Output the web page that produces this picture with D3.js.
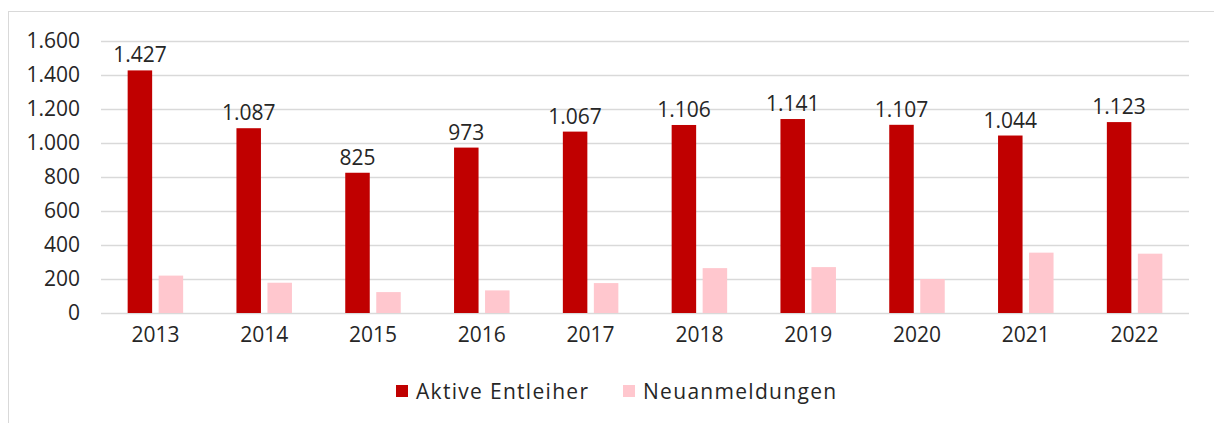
<!DOCTYPE html>
<html>
<head>
<meta charset="utf-8">
<script src="https://cdn.jsdelivr.net/npm/d3@7"></script>
<style>
  body { margin: 0; background: #fff; }
  svg { display: block; font-family: "Open Sans", "Noto Sans", sans-serif; }
</style>
</head>
<body>
<svg id="chart" width="1214" height="423"></svg>
<script>
const years = ['2013', '2014', '2015', '2016', '2017', '2018', '2019', '2020', '2021', '2022']
const aktive = [1427, 1087, 825, 973, 1067, 1106, 1141, 1107, 1044, 1123]
const neu = [220, 178, 123, 133, 176, 264, 270, 200, 355, 349]
const yTicks = [0, 200, 400, 600, 800, 1000, 1200, 1400, 1600]
const seriesNames = ['Aktive Entleiher', 'Neuanmeldungen']
const colors = ['#c00000', '#ffc7ce']

const font = '"Open Sans", "Noto Sans", sans-serif'
const fontSize = 21
const textColor = '#262626'
const svg = d3.select('#chart')

// outer frame
svg.append('rect')
    .attr('x', 8.5).attr('y', 11.5)
    .attr('width', 1214).attr('height', 430)
    .attr('fill', 'none').attr('stroke', '#d9d9d9')

const margin = { top: 41, left: 101, right: 1189, bottom: 313 }

const x = d3.scaleBand()
    .domain(years)
    .range([margin.left, margin.right])

const y = d3.scaleLinear()
    .domain([0, 1600])
    .range([margin.bottom, margin.top])

const fmt = d3.formatLocale({ decimal: ',', thousands: '.', grouping: [3], currency: ['', '€'] }).format(',')

// gridlines
svg.append('g')
    .selectAll('line')
    .data(yTicks)
    .enter().append('line')
    .attr('x1', margin.left).attr('x2', margin.right)
    .attr('y1', d => Math.round(y(d)) + 0.5)
    .attr('y2', d => Math.round(y(d)) + 0.5)
    .attr('stroke', '#d9d9d9')
    .attr('stroke-width', 1.5)

// y axis labels
const yAxis = svg.append('g')
    .attr('transform', 'translate(' + margin.left + ',0)')
    .call(d3.axisLeft(y).tickValues(yTicks).tickFormat(fmt).tickSize(0).tickPadding(21))
yAxis.select('.domain').remove()
yAxis.selectAll('text')
    .attr('font-size', fontSize).attr('fill', textColor)
    .attr('font-family', font)

// x axis labels
const xAxis = svg.append('g')
    .attr('transform', 'translate(0,' + margin.bottom + ')')
    .call(d3.axisBottom(x).tickSize(0).tickPadding(14))
xAxis.select('.domain').remove()
xAxis.selectAll('text')
    .attr('font-size', fontSize).attr('fill', textColor)
    .attr('font-family', font)

const barW = 24.5
const gap = 6.5

// red bars
svg.append('g')
    .selectAll('rect')
    .data(aktive)
    .enter().append('rect')
    .attr('x', (d, i) => x(years[i]) + x.bandwidth() / 2 - gap / 2 - barW)
    .attr('width', barW)
    .attr('y', d => y(d))
    .attr('height', d => y(0) - y(d))
    .attr('fill', colors[0])

// pink bars
svg.append('g')
    .selectAll('rect')
    .data(neu)
    .enter().append('rect')
    .attr('x', (d, i) => x(years[i]) + x.bandwidth() / 2 + gap / 2)
    .attr('width', barW)
    .attr('y', d => y(d))
    .attr('height', d => y(0) - y(d))
    .attr('fill', colors[1])

// value labels on red bars
svg.append('g')
    .selectAll('text')
    .data(aktive)
    .enter().append('text')
    .attr('x', (d, i) => x(years[i]) + x.bandwidth() / 2 - gap / 2 - barW / 2)
    .attr('y', d => y(d) - 8)
    .attr('text-anchor', 'middle')
    .attr('font-size', fontSize)
    .attr('fill', textColor)
    .text(d => fmt(d))

// legend
const legendX = [396, 623]
const legend = svg.append('g')
seriesNames.forEach((name, i) => {
    legend.append('rect')
        .attr('x', legendX[i]).attr('y', 385)
        .attr('width', 12).attr('height', 12)
        .attr('fill', colors[i])
    legend.append('text')
        .attr('x', legendX[i] + 20).attr('y', 399)
        .attr('font-size', fontSize)
        .attr('letter-spacing', 1.3)
        .attr('fill', textColor)
        .text(name)
})
</script>
</body>
</html>
